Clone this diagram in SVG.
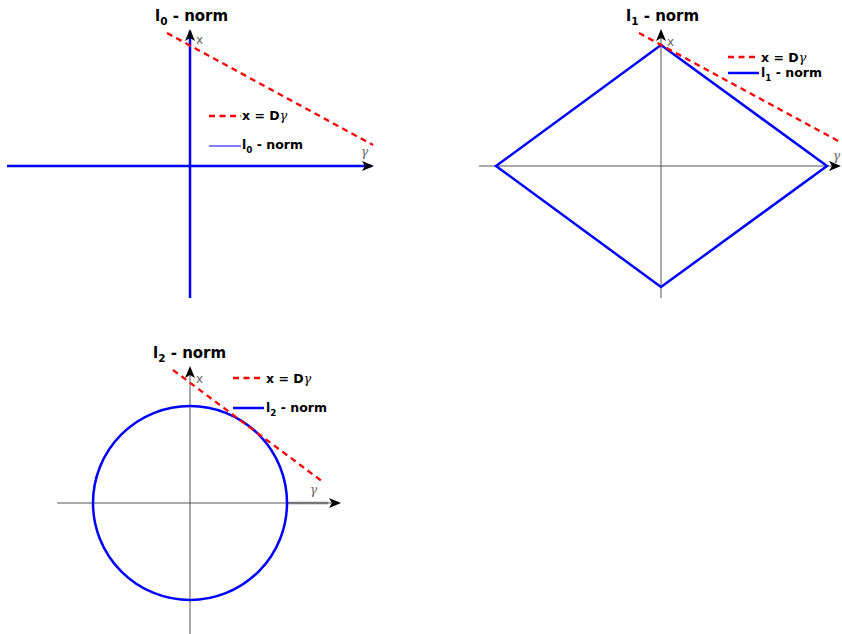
<svg xmlns="http://www.w3.org/2000/svg" width="842" height="634" viewBox="0 0 842 634">
<style>
.ttl{font-family:"DejaVu Sans",sans-serif;font-weight:bold;font-size:15px;fill:#000}
.leg{font-family:"DejaVu Sans",sans-serif;font-weight:bold;font-size:12.5px;fill:#000}
.lab{font-family:"DejaVu Sans",sans-serif;font-size:12px;fill:#666}
.g{font-family:"DejaVu Serif",serif;font-style:italic;font-weight:normal}
.sub{font-size:70%}
.axis{stroke:#555;stroke-width:1;fill:none}
.blue{stroke:#00f;stroke-width:2.5;fill:none}
.red{stroke:#f00;stroke-width:2.3;stroke-dasharray:6,4.5;fill:none}
</style>
<defs>
<marker id="arr" viewBox="0 0 12 10" refX="10" refY="5" markerWidth="12" markerHeight="10" markerUnits="userSpaceOnUse" orient="auto">
<path d="M0,0 L12,5 L0,10 L3,5 Z" fill="#000"/>
</marker>
</defs>
<g id="panel-l0">
<text class="ttl" x="155" y="21">l<tspan class="sub" dy="4">0</tspan><tspan dy="-4"> - norm</tspan></text>
<g id="conn-l0">
<line class="blue" x1="7" y1="166" x2="372" y2="166" marker-end="url(#arr)"/>
<line class="blue" x1="190" y1="298" x2="190" y2="31" marker-end="url(#arr)"/>
<line class="red" x1="167" y1="33" x2="373" y2="145"/>
</g>
<text class="lab" x="196" y="44">x</text>
<text class="lab g" x="361" y="156">γ</text>
<g id="legend-l0">
<line class="red" x1="209" y1="116" x2="241" y2="116"/>
<text class="leg" x="242" y="120">x = D<tspan class="g">γ</tspan></text>
<line x1="209" y1="146" x2="241" y2="146" stroke="#00f" stroke-width="1"/>
<text class="leg" x="242" y="149">l<tspan class="sub" dy="4">0</tspan><tspan dy="-4"> - norm</tspan></text>
</g>
</g>
<g id="panel-l1">
<text class="ttl" x="626" y="21">l<tspan class="sub" dy="4">1</tspan><tspan dy="-4"> - norm</tspan></text>
<g id="conn-l1">
<line class="axis" x1="479" y1="166" x2="839" y2="166" marker-end="url(#arr)"/>
<line class="axis" x1="661" y1="298" x2="661" y2="31" marker-end="url(#arr)"/>
<polygon class="blue" points="661,45 827,166 661,287 496,166"/>
<line class="red" x1="639" y1="33" x2="840" y2="142"/>
</g>
<text class="lab" x="667" y="46">x</text>
<text class="lab g" x="833" y="160">γ</text>
<g id="legend-l1">
<line class="red" x1="728" y1="57" x2="759" y2="57"/>
<text class="leg" x="761" y="62">x = D<tspan class="g">γ</tspan></text>
<line class="blue" x1="728" y1="73" x2="759" y2="73"/>
<text class="leg" x="761" y="77">l<tspan class="sub" dy="4">1</tspan><tspan dy="-4"> - norm</tspan></text>
</g>
</g>
<g id="panel-l2">
<text class="ttl" x="153" y="358">l<tspan class="sub" dy="4">2</tspan><tspan dy="-4"> - norm</tspan></text>
<g id="conn-l2">
<line class="axis" x1="57" y1="503" x2="339" y2="503" marker-end="url(#arr)"/>
<line x1="287" y1="503" x2="328" y2="503" stroke="#777" stroke-width="2.5"/>
<line class="axis" x1="190" y1="634" x2="190" y2="368" marker-end="url(#arr)"/>
<circle class="blue" cx="190" cy="503" r="97"/>
<line class="red" x1="173" y1="370" x2="323" y2="482"/>
</g>
<text class="lab" x="196" y="383">x</text>
<text class="lab g" x="310" y="494">γ</text>
<g id="legend-l2">
<line class="red" x1="233" y1="378" x2="264" y2="378"/>
<text class="leg" x="266" y="383">x = D<tspan class="g">γ</tspan></text>
<line class="blue" x1="233" y1="408" x2="264" y2="408"/>
<text class="leg" x="266" y="412">l<tspan class="sub" dy="4">2</tspan><tspan dy="-4"> - norm</tspan></text>
</g>
</g>
</svg>
